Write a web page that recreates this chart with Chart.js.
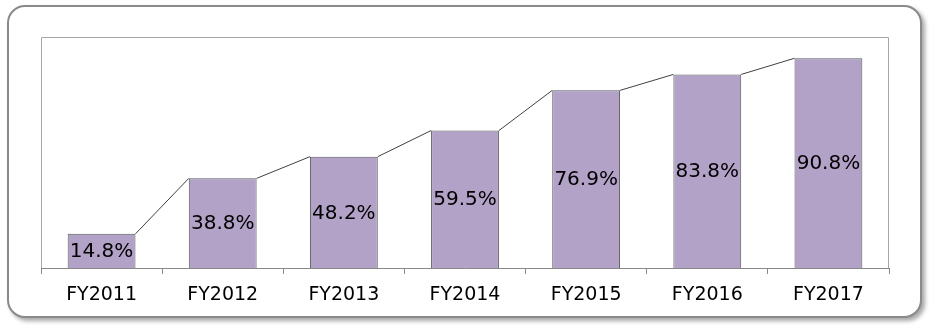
<!DOCTYPE html>
<html>
<head>
<meta charset="utf-8">
<script src="https://cdn.jsdelivr.net/npm/chart.js@4/dist/chart.umd.min.js"></script>
<style>
  html, body { margin: 0; padding: 0; background: #fff; }
  #wrap { position: relative; width: 939px; height: 333px; }
  #box {
    position: absolute; left: 7px; top: 5px; width: 911px; height: 309px;
    border: 2px solid #8a8a8a; border-radius: 18px; background: #fff;
    box-shadow: 3px 3px 4px rgba(0, 0, 0, 0.35);
  }
  #chart { position: absolute; left: 0; top: 0; }
</style>
</head>
<body>
<div id="wrap">
  <div id="box"></div>
  <canvas id="chart" width="939" height="333"></canvas>
</div>
<script>
const years = ['FY2011', 'FY2012', 'FY2013', 'FY2014', 'FY2015', 'FY2016', 'FY2017'];
const shares = [14.8, 38.8, 48.2, 59.5, 76.9, 83.8, 90.8];

const FONT = '"DejaVu Sans", Verdana, sans-serif';

/** Gray frame on left, top and right of the plot area. */
const frame = {
  id: 'frame',
  beforeDatasetsDraw(chart) {
    const { ctx, chartArea: a } = chart;
    ctx.save();
    ctx.strokeStyle = '#a6a6a6';
    ctx.lineWidth = 1;
    ctx.beginPath();
    ctx.moveTo(a.left + 0.5, a.bottom);
    ctx.lineTo(a.left + 0.5, a.top + 0.5);
    ctx.lineTo(a.right - 0.5, a.top + 0.5);
    ctx.lineTo(a.right - 0.5, a.bottom);
    ctx.stroke();
    ctx.restore();
  },
};

/** Lines joining bar tops, plus value labels in the middle of each bar. */
const steps = {
  id: 'steps',
  afterDatasetsDraw(chart) {
    const { ctx } = chart;
    const bars = chart.getDatasetMeta(0).data;
    ctx.save();
    ctx.strokeStyle = '#404040';
    ctx.lineWidth = 1;
    for (let i = 0; i < bars.length - 1; i++) {
      const a = bars[i], b = bars[i + 1];
      ctx.beginPath();
      ctx.moveTo(a.x + a.width / 2, a.y);
      ctx.lineTo(b.x - b.width / 2, b.y);
      ctx.stroke();
    }
    ctx.fillStyle = '#000';
    ctx.font = '20px ' + FONT;
    ctx.textAlign = 'center';
    ctx.textBaseline = 'middle';
    bars.forEach((bar, i) => {
      ctx.fillText(shares[i].toFixed(1) + '%', bar.x, (bar.y + bar.base) / 2 + 1);
    });
    ctx.restore();
  },
};

new Chart(document.getElementById('chart'), {
  type: 'bar',
  data: {
    labels: years,
    datasets: [{
      data: shares,
      backgroundColor: '#b3a2c7',
      borderColor: '#5a5a5a',
      borderWidth: 1,
      borderSkipped: 'bottom',
      categoryPercentage: 1,
      barPercentage: 0.56,
    }],
  },
  options: {
    responsive: false, animation: false,
    layout: { padding: { left: 41, right: 50, top: 37, bottom: 0 } },
    plugins: { legend: { display: false }, tooltip: { enabled: false } },
    scales: {
      y: { display: false, min: 0, max: 100 },
      x: {
        offset: true,
        afterFit: s => { s.height = 65; },
        border: { display: true, color: '#888', width: 1 },
        grid: { offset: true, drawOnChartArea: false, drawTicks: true, tickLength: 6, color: '#888' },
        ticks: { color: '#000', font: { family: FONT, size: 19 }, padding: 10, maxRotation: 0 },
      },
    },
  },
  plugins: [frame, steps],
});
</script>
</body>
</html>
